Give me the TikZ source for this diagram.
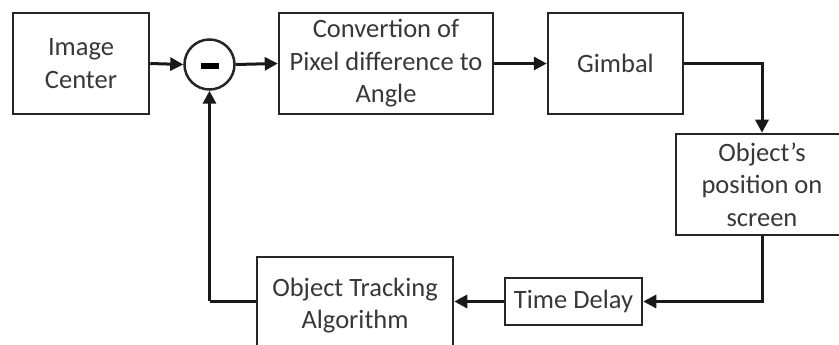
\documentclass[tikz,border=0pt]{standalone}
\usepackage{fontspec}
\setmainfont{Carlito}
\usetikzlibrary{arrows.meta,calc}
\tikzset{
  blk/.style={draw=black!85, line width=2.5pt, inner sep=0pt, align=center,
    font=\fontsize{26.5}{32.5}\selectfont, text=black!78},
  conn/.style={line width=3pt, draw=black!90, -{Triangle[length=13pt,width=13pt]}},
  plain/.style={line width=3pt, draw=black!90}
}
\begin{document}
\begin{tikzpicture}[x=1pt,y=-1pt]
\useasboundingbox (0,0) rectangle (839,345);
\fill[white] (0,0) rectangle (839,345);
\node[blk, minimum width=136pt, minimum height=101pt] (ic) at (81,63.5) {Image\\Center};
\node[draw=black!85, line width=2.5pt, circle, minimum size=50pt, inner sep=0pt] (s) at (209.5,64.5) {};
\fill[black] ($(s.center)+(-9,-1)$) rectangle ($(s.center)+(9,5)$);
\node[blk, minimum width=214pt, minimum height=101pt] (conv) at (386,63.5) {Convertion of\\Pixel difference to\\Angle};
\node[blk, minimum width=135pt, minimum height=101pt] (gim) at (615.5,63.5) {Gimbal};
\node[blk, minimum width=172pt, minimum height=101pt] (obj) at (762,184.5) {Object’s\\position on\\screen};
\node[blk, minimum width=137pt, minimum height=47pt] (td) at (573.5,301.5) {Time Delay};
\node[blk, minimum width=196pt, minimum height=97pt] (ota) at (355,305.5) {Object Tracking\\Algorithm};
\coordinate (c1) at (209.5,301);
\draw[conn] (ic.east) -- (s.west);
\draw[conn] (s.east) -- (conv.west);
\draw[conn] (conv.east) -- (gim.east -| gim.west);
\draw[conn] (gim.east) -| (obj.north);
\draw[conn] (obj.south) |- (td.east);
\draw[conn] (td.west) -- (td.west -| ota.east);
\draw[plain] (ota.west |- c1) -- (c1);
\draw[conn] (c1) -- (s.south);
\end{tikzpicture}
\end{document}
